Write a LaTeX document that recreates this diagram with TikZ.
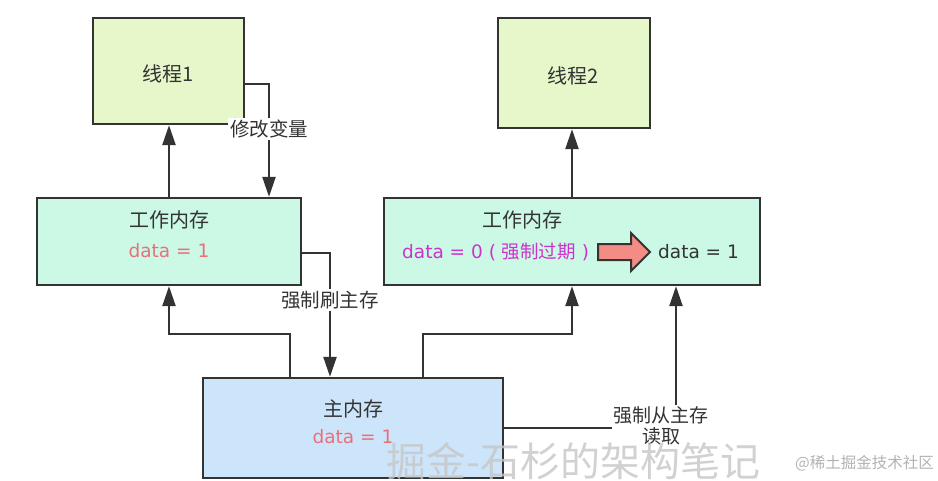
\documentclass[tikz,border=0pt]{standalone}
\usepackage{fontspec}
\setmainfont{DejaVu Sans}
\newfontfamily\cjk{Noto Sans CJK SC}
\usetikzlibrary{arrows.meta}
\definecolor{thrfill}{HTML}{E6F7CA}
\definecolor{wmfill}{HTML}{CCF8E6}
\definecolor{mainfill}{HTML}{CDE5FA}
\definecolor{ink}{HTML}{333333}
\definecolor{pinktxt}{HTML}{E8707A}
\definecolor{magtxt}{HTML}{CC33CC}
\definecolor{blockarrow}{HTML}{F28C84}
\tikzset{
  box/.style={draw=ink, line width=2.3pt, inner sep=0pt},
  arr/.style={draw=ink, line width=2.3pt, -{Triangle[length=20pt,width=13pt]}},
  lbl/.style={fill=white, inner sep=2pt, text=ink, font=\cjk\fontsize{19.5}{22}\selectfont, align=center},
  ttl/.style={text=ink, font=\cjk\fontsize{20}{22}\selectfont, inner sep=0pt},
  dat/.style={font=\fontsize{18.5}{20}\selectfont, inner sep=0pt},
}
\begin{document}
\begin{tikzpicture}[x=1pt,y=-1pt]
\useasboundingbox (0,0) rectangle (938,480);
% boxes
\node[box, fill=thrfill, minimum width=151pt, minimum height=106pt] (t1) at (168.5,71) {};
\node[box, fill=thrfill, minimum width=152pt, minimum height=110pt] (t2) at (574,73) {};
\node[box, fill=wmfill, minimum width=264pt, minimum height=87pt] (w1) at (169,241.5) {};
\node[box, fill=wmfill, minimum width=376pt, minimum height=87pt] (w2) at (572,241.5) {};
\node[box, fill=mainfill, minimum width=300pt, minimum height=100pt] (m) at (353,428) {};
% texts
\node[ttl] (t1txt) at (168,74) {线程1};
\node[ttl] (t2txt) at (573,76) {线程2};
\node[ttl] (w1ttl) at (169,220) {工作内存};
\node[dat, text=pinktxt] (w1dat) at (169,251) {data = 1};
\node[ttl] (w2ttl) at (522,220) {工作内存};
\node[dat, text=magtxt, anchor=west] (w2old) at (402,252) {data = 0 ( {\cjk 强制过期} )};
\node[dat, text=ink, anchor=west] (w2new) at (658,252) {data = 1};
\node[ttl] (mttl) at (353,409) {主内存};
\node[dat, text=pinktxt] (mdat) at (353,437) {data = 1};
% block arrow
\filldraw[fill=blockarrow, draw=ink, line width=2pt, line join=miter]
  (598,244) -- (631,244) -- (631,233) -- (650,252) -- (631,271) -- (631,260) -- (598,260) -- cycle;
% connectors
\draw[arr] (w1.north) -- (w1.north |- t1.south);
\draw[arr] ([yshift=-13pt]t1.east) -| ([xshift=100pt]w1.north)
  node[lbl, pos=0.70] (lblmod) {修改变量};
\draw[arr] ([yshift=-11.5pt]w1.east) -| ([xshift=-23pt]m.north)
  node[lbl, pos=0.69] (lblflush) {强制刷主存};
\draw[arr] ([xshift=-63pt]m.north) -- ++(0,-43) -| (w1.south);
\draw[arr] ([xshift=70pt]m.north) -- ++(0,-43) -| (w2.south);
\draw[arr] (w2.north) -- (w2.north |- t2.south);
\draw[arr] (m.east) -| ([xshift=104pt]w2.south);
\node[lbl, inner sep=2pt, font=\cjk\fontsize{19}{21}\selectfont] (lblread) at (661,426) {强制从主存\\读取};
% watermarks
\node[text=gray!45, opacity=0.8, font=\cjk\fontsize{40}{42}\selectfont, anchor=west, inner sep=0pt] (wm1) at (386,461) {掘金-石杉的架构笔记};
\node[text=gray!60, font=\cjk\fontsize{15.5}{18}\selectfont, anchor=east, inner sep=0pt] (wm2) at (934,463) {@稀土掘金技术社区};
\end{tikzpicture}
\end{document}
